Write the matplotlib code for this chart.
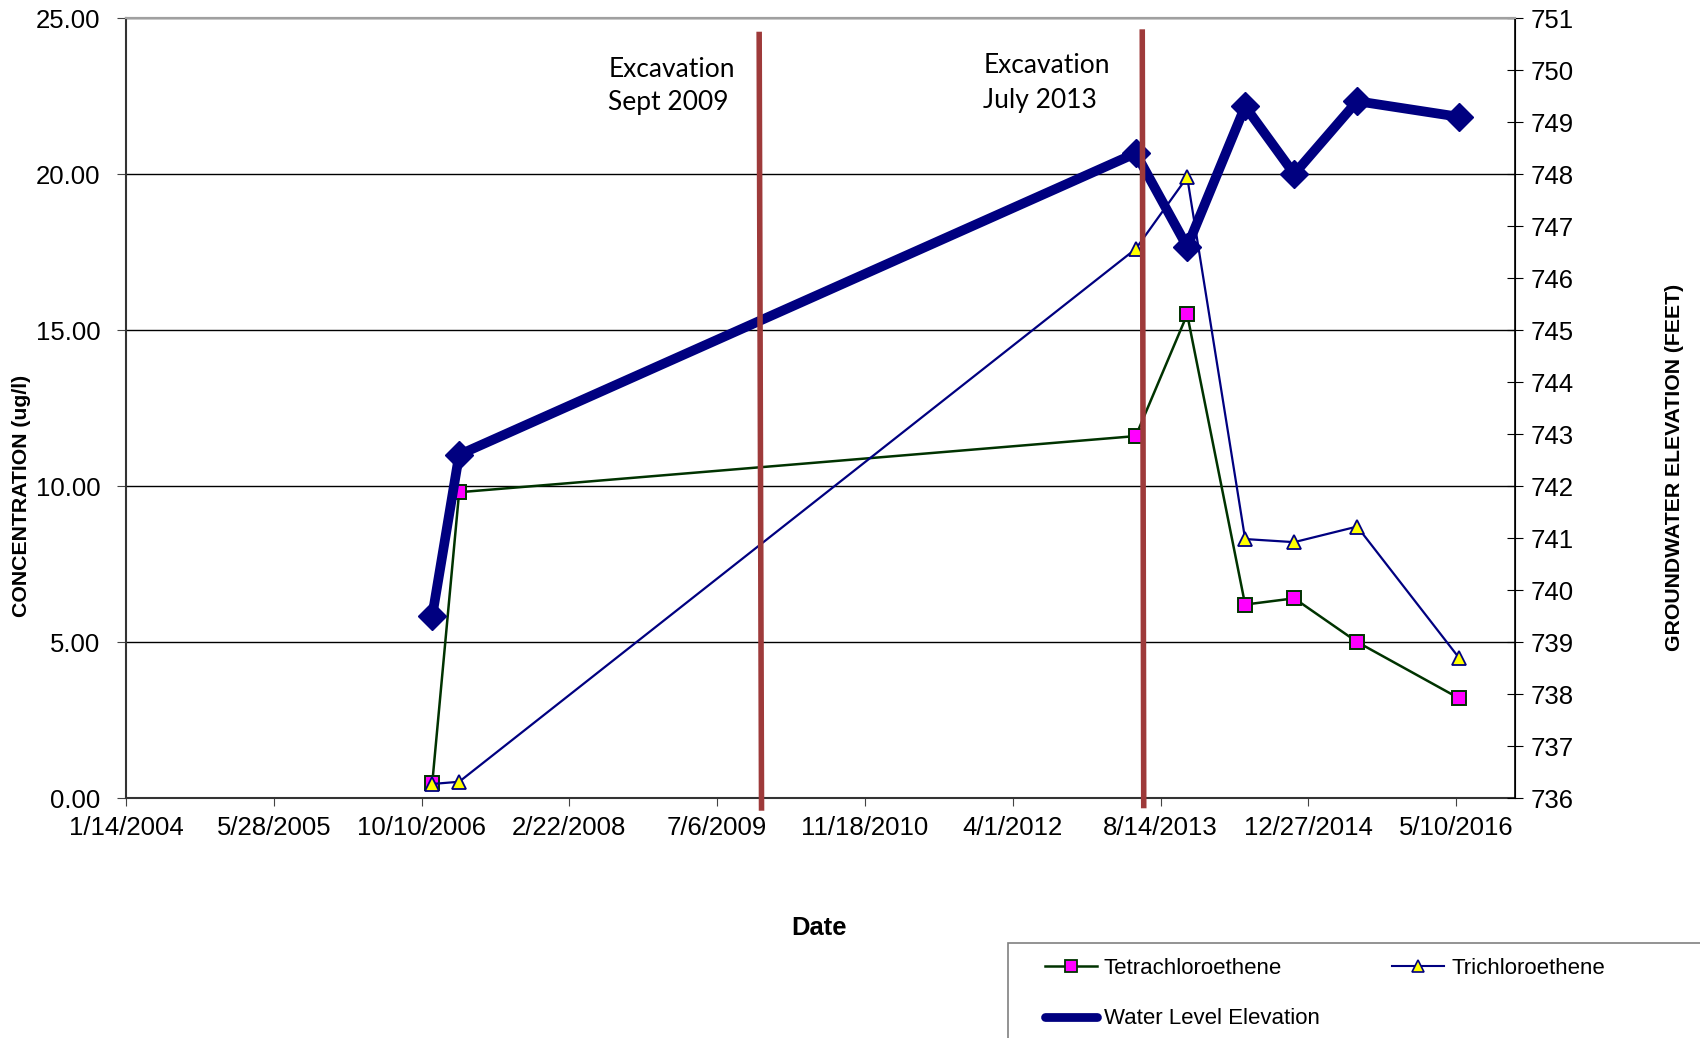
import matplotlib
matplotlib.use("Agg")
import matplotlib.pyplot as plt
import pandas as pd
from matplotlib.lines import Line2D
from matplotlib.patches import Rectangle

# Sampling events for the monitoring well
sample_dates = ["11/15/2006", "2/14/2007", "5/22/2013", "11/12/2013",
                "5/27/2014", "11/9/2014", "6/10/2015", "5/19/2016"]
tetrachloroethene = [0.47, 9.8, 11.6, 15.5, 6.2, 6.4, 5.0, 3.2]        # ug/l
trichloroethene = [0.45, 0.52, 17.6, 19.9, 8.3, 8.2, 8.7, 4.5]         # ug/l
water_level = [739.5, 742.6, 748.4, 746.6, 749.3, 748.0, 749.4, 749.1]  # feet

# Axis ticks
date_ticks = ["1/14/2004", "5/28/2005", "10/10/2006", "2/22/2008", "7/6/2009",
              "11/18/2010", "4/1/2012", "8/14/2013", "12/27/2014", "5/10/2016"]
date_limits = ["1/14/2004", "11/26/2016"]
conc_ticks = [0, 5, 10, 15, 20, 25]
elev_ticks = list(range(736, 752))

# Excavation events: label lines and the dates at top / bottom of the marker line
excavation_labels = [("Excavation", "Sept 2009"), ("Excavation", "July 2013")]
excavation_dates = [("11/25/2009", "12/3/2009"), ("6/13/2013", "6/18/2013")]

W, H = 1700, 1038
ARIAL = "Liberation Sans"
CALIBRI = "Lato"

def to_dt(vals):
    return pd.to_datetime(vals, format="%m/%d/%Y")

dates = to_dt(sample_dates)

fig = plt.figure(figsize=(W / 100, H / 100), dpi=100)
ax = fig.add_axes([126 / W, 240 / H, 1389.3 / W, 780 / H])
ax2 = ax.twinx()

ax.set_xlim(to_dt(date_limits))
ax.set_ylim(conc_ticks[0], conc_ticks[-1])
ax2.set_ylim(elev_ticks[0], elev_ticks[-1])

ax.set_axisbelow(True)
ax.yaxis.grid(True, color="black", lw=1.0)

ax.plot(dates, tetrachloroethene, color="#003300", lw=1.8, marker="s", ms=9.5,
        mfc="#FF00FF", mec="#003300", mew=1.4, zorder=3)
ax.plot(dates, trichloroethene, color="#000080", lw=1.6, marker="^", ms=10.5,
        mfc="#FFFF00", mec="#000080", mew=1.3, zorder=3)
ax2.plot(dates, water_level, color="#000080", lw=7.0, marker="D", ms=14,
         mfc="#000080", mec="#000080", mew=1, zorder=3)

# Excavation marker lines
exc_color = "#9E3A3A"
for (d_top, d_bot), y_top, y_bot in zip(excavation_dates, [0.9824, 0.9855], [-0.0163, -0.0132]):
    ax2.plot(to_dt([d_top, d_bot]), [y_top, y_bot], color=exc_color, lw=4.0,
             transform=ax2.get_xaxis_transform(), clip_on=False, zorder=10,
             solid_capstyle="butt")

for (l1, l2), (x, y1, y2) in zip(excavation_labels,
                                 [(0.3477, 0.924, 0.882), (0.6176, 0.929, 0.884)]):
    ax.text(x, y1, l1, transform=ax.transAxes, fontsize=19, family=CALIBRI,
            ha="left", va="baseline")
    ax.text(x - 0.001, y2, l2, transform=ax.transAxes, fontsize=19, family=CALIBRI,
            ha="left", va="baseline")

# Ticks
ax.set_xticks(to_dt(date_ticks))
ax.set_xticklabels(date_ticks, fontsize=18.5, family=ARIAL)
ax.set_yticks(conc_ticks)
ax.set_yticklabels([f"{v:.2f}" for v in conc_ticks], fontsize=18.5, family=ARIAL)
ax2.set_yticks(elev_ticks)
ax2.set_yticklabels([str(v) for v in elev_ticks], fontsize=18.5, family=ARIAL)

ax.tick_params(axis="x", direction="out", length=5.8, width=0.8, pad=7, color="#444444")
ax.tick_params(axis="y", direction="out", length=6.3, width=0.8, pad=12, color="#444444")
ax2.tick_params(axis="y", direction="inout", length=11.5, width=0.8, pad=5.5, color="black")

for s in ["left", "bottom"]:
    ax.spines[s].set_color("#333333")
    ax.spines[s].set_linewidth(1.5)
ax2.spines["right"].set_color("black")
ax2.spines["right"].set_linewidth(1.2)
for a in (ax, ax2):
    a.spines["top"].set_color("#A0A0A0")
    a.spines["top"].set_linewidth(1.5)
ax2.spines["left"].set_visible(False)
ax2.spines["bottom"].set_visible(False)

# Axis titles
fig.text(21.7 / W, 1 - 496 / H, "CONCENTRATION (ug/l)", rotation=90, ha="center",
         va="center", fontsize=15.3, fontweight="bold", family=ARIAL)
fig.text(1675 / W, 1 - 467 / H, "GROUNDWATER ELEVATION (FEET)", rotation=90,
         ha="center", va="center", fontsize=15.3, fontweight="bold", family=ARIAL)
fig.text(819 / W, 1 - 928 / H, "Date", ha="center", va="center", fontsize=18.4,
         fontweight="bold", family=ARIAL)

# Legend
handles = [
    Line2D([], [], color="#003300", lw=1.8, marker="s", ms=8, mfc="#FF00FF",
           mec="#003300", mew=1.3),
    Line2D([], [], color="#000080", lw=6.3, marker="D", ms=3, mfc="#000080",
           mec="#000080", solid_capstyle="round"),
    Line2D([], [], color="#000080", lw=1.5, marker="^", ms=8.5, mfc="#FFFF00",
           mec="#000080", mew=1.2),
]
labels = ["Tetrachloroethene", "Water Level Elevation", "Trichloroethene"]
fig.legend(handles, labels, loc="upper left", bbox_to_anchor=(1044.6 / W, 1 - 958 / H),
           ncol=2, frameon=False, borderpad=0, borderaxespad=0, handlelength=2.36,
           handletextpad=0.3, columnspacing=3.26, labelspacing=1.32,
           prop={"family": ARIAL, "size": 16})
fig.patches.append(Rectangle((1008 / W, -0.05), 0.5, (1038 - 942.7) / H + 0.05,
                             transform=fig.transFigure, fill=False,
                             edgecolor="#808080", lw=1.2))

fig.savefig("out.png", dpi=100)
